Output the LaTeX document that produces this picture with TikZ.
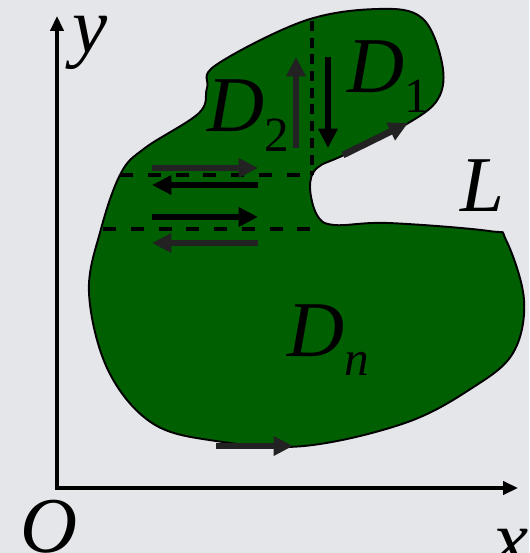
\documentclass[tikz,border=0pt]{standalone}
\usepackage{fontspec}
\setmainfont{Liberation Serif}
\usetikzlibrary{arrows.meta}

\definecolor{regiongreen}{RGB}{0,95,0}
\definecolor{boardgray}{RGB}{228,230,233}
\definecolor{flowgray}{RGB}{34,34,34}
\newcommand{\regionlabel}[2]{\textit{#1}\raisebox{-11pt}{\fontsize{28}{28}\selectfont #2}}

\begin{document}
\begin{tikzpicture}[
    x=0.02cm, y=-0.02cm,
    font=\fontsize{45}{48}\selectfont\itshape,
    axis/.style={line width=1.9pt, {Triangle[length=8.5pt,width=7.5pt]}-{Triangle[length=8.5pt,width=7.5pt]}},
    vcut/.style={line width=2.3pt, dash pattern=on 5.7pt off 3.8pt},
    hcut/.style={line width=2.7pt, dash pattern=on 7.4pt off 8.4pt},
    flow/.style={draw=flowgray, line width=3.8pt, -{Triangle[length=11pt,width=10.5pt]}},
    darkflow/.style={flow, draw=black},
    lbl/.style={inner sep=0pt, anchor=base west}
]
  \fill[boardgray] (0,0) rectangle (529,553);
  \useasboundingbox (0,0) rectangle (529,553);

  % axes
  \coordinate (origin) at (57,488);
  \coordinate (xend) at (518,488);
  \coordinate (yend) at (57,16);
  \draw[axis] (yend) -- (origin) -- (xend);

  % region D
  \draw[fill=regiongreen, line width=1.1pt] plot[smooth cycle, tension=0.6] coordinates {
    (216,65) (304,21) (378,9) (422,18) (442,63) (438,99) (405,125) (344,155)
    (317,168) (310,187) (317,215) (334,225) (388,223) (489,231) (506,240)
    (524,300) (513,353) (472,388) (405,423) (304,446) (216,441) (152,423)
    (108,370) (89,293) (101,229) (121,173) (145,148) (199,113) (207,88)};

  % cuts
  \coordinate (vtop) at (312,21);
  \coordinate (vbot) at (312,175);
  \coordinate (hone) at (120,175);
  \coordinate (htwoa) at (103,229);
  \coordinate (htwob) at (315,229);
  \draw[vcut] (vtop) -- (vbot);
  \draw[hcut] (hone) -- (vbot);
  \draw[hcut] (htwoa) -- (htwob);

  % flows along the cuts
  \coordinate (upa) at (296,148);  \coordinate (upb) at (296,57);
  \coordinate (dna) at (328,57);   \coordinate (dnb) at (328,148);
  \coordinate (dga) at (343,155);  \coordinate (dgb) at (408,123);
  \coordinate (raa) at (152,168);  \coordinate (rab) at (258,168);
  \coordinate (laa) at (258,185);  \coordinate (lab) at (152,185);
  \coordinate (rba) at (152,217);  \coordinate (rbb) at (258,217);
  \coordinate (lba) at (258,243);  \coordinate (lbb) at (152,243);
  \coordinate (bta) at (216,446);  \coordinate (btb) at (293,446);
  \draw[flow] (upa) -- (upb);
  \draw[darkflow] (dna) -- (dnb);
  \draw[flow] (dga) -- (dgb);
  \draw[flow] (raa) -- (rab);
  \draw[darkflow] (laa) -- (lab);
  \draw[darkflow] (rba) -- (rbb);
  \draw[flow] (lba) -- (lbb);
  \draw[flow] (bta) -- (btb);

  % labels
  \node[lbl] (ylab) at (72,53) {y};
  \node[lbl] (olab) at (20,552) {O};
  \node[lbl] (xlab) at (493,565) {x};
  \node[lbl] (llab) at (460,212) {L};
  \node[lbl] (donelab) at (347,93) {\regionlabel{D}{\upshape 1}};
  \node[lbl] (dtwolab) at (207,132) {\regionlabel{D}{\upshape 2}};
  \node[lbl] (dnlab) at (287,356) {\regionlabel{D}{n}};
\end{tikzpicture}
\end{document}
